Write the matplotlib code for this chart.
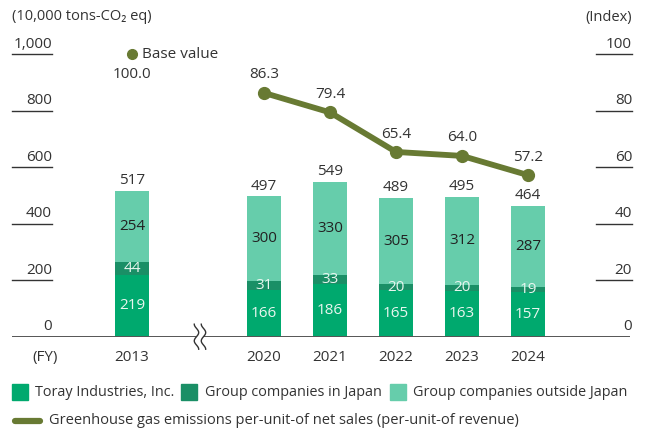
import matplotlib
matplotlib.use("Agg")
import matplotlib.pyplot as plt
from matplotlib.patches import Rectangle
from matplotlib.lines import Line2D
import numpy as np

plt.rcParams['font.family'] = ['Open Sans', 'DejaVu Sans']

# Data
years = ["2013", "2020", "2021", "2022", "2023", "2024"]
positions = [0, 2, 3, 4, 5, 6]
toray = [219, 166, 186, 165, 163, 157]
group_japan = [44, 31, 33, 20, 20, 19]
group_outside = [254, 300, 330, 305, 312, 287]
totals = [517, 497, 549, 489, 495, 464]

index_years_pos = [2, 3, 4, 5, 6]
index_values = [86.3, 79.4, 65.4, 64.0, 57.2]
base_value = 100.0

left_ticks = [0, 200, 400, 600, 800, 1000]
right_ticks = [0, 20, 40, 60, 80, 100]

c_toray = "#00a96e"
c_japan = "#1a8f66"
c_outside = "#66cdab"
c_line = "#687a33"
c_text = "#333333"
c_light = "#e8f6ef"

W, H = 645, 430
fig = plt.figure(figsize=(W / 100, H / 100), dpi=100)

left_px, right_px = 12, 630
bottom_px, top_px = 336.7, 54.2
ax = fig.add_axes([left_px / W, 1 - bottom_px / H,
                   (right_px - left_px) / W, (bottom_px - top_px) / H])
slot = 66.0
x0 = -(132 - left_px) / slot
x1 = x0 + (right_px - left_px) / slot
ax.set_xlim(x0, x1)
ax.set_ylim(0, 1000)
ax.axis("off")

ax2 = ax.twinx()
ax2.set_ylim(0, 100)
ax2.axis("off")

fs = 11
bw = 34 / slot
ypx = 1000 / (bottom_px - top_px)  # data units per pixel on the left axis

# Stacked bars
ax.bar(positions, toray, width=bw, color=c_toray, zorder=2)
ax.bar(positions, group_japan, width=bw, bottom=toray, color=c_japan, zorder=2)
bottoms2 = [a + b for a, b in zip(toray, group_japan)]
ax.bar(positions, group_outside, width=bw, bottom=bottoms2, color=c_outside, zorder=2)

for p, a, b, c, t in zip(positions, toray, group_japan, group_outside, totals):
    ax.text(p, a / 2, str(a), ha="center", va="center", fontsize=fs, color=c_light, zorder=3)
    ax.text(p, a + b / 2, str(b), ha="center", va="center", fontsize=fs, color=c_light, zorder=3)
    ax.text(p, a + b + c / 2, str(c), ha="center", va="center", fontsize=fs, color="#222222", zorder=3)
    ax.annotate(str(t), (p, a + b + c), xytext=(0, 2), textcoords="offset points",
                ha="center", va="bottom", fontsize=fs, color=c_text)

# Baseline with a break between 2013 and 2020
ax.axhline(0, color="#555555", lw=1.4, zorder=4)
brk_x = 1.03
ax.add_patch(Rectangle((brk_x - 4 / slot, -14 * ypx), 8 / slot, 28 * ypx, color="white",
                       zorder=5, clip_on=False, lw=0))
tt = np.linspace(-1, 1, 60)
for dx in (-3.5, 3.5):
    xs = brk_x + (dx + 2.2 * np.sin(tt * np.pi * 1.5)) / slot
    ys = tt * 12.5 * ypx
    ax.plot(xs, ys, color="#333333", lw=1.0, zorder=6, clip_on=False)

# Tick labels with short underlines
for v in left_ticks:
    if v > 0:
        ax.plot([x0, x0 + 40 / slot], [v, v], color="#333333", lw=1.0, clip_on=False)
    ax.text(x0 + 40 / slot, v + 10 * ypx, f"{v:,}", ha="right", va="center",
            fontsize=fs, color=c_text)
for v in right_ticks:
    if v > 0:
        ax2.plot([x1 - 34 / slot, x1 + 2 / slot], [v, v], color="#333333", lw=1.0, clip_on=False)
    ax2.text(x1 + 2 / slot, v + ypx, f"{v}", ha="right", va="center",
             fontsize=fs, color=c_text)

fig.text(12 / W, 1 - 17 / H, "(10,000 tons-CO₂ eq)", ha="left", va="center",
         fontsize=fs - 0.5, color=c_text)
fig.text(632 / W, 1 - 17 / H, "(Index)", ha="right", va="center",
         fontsize=fs - 0.5, color=c_text)

# Year labels
for p, y in zip(positions, years):
    ax.text(p, -21 * ypx, y, ha="center", va="center", fontsize=fs, color=c_text)
ax.text(x0 + 33 / slot, -21 * ypx, "(FY)", ha="center", va="center", fontsize=fs, color=c_text)

# Index line
ax2.plot(index_years_pos, index_values, color=c_line, lw=4.2, marker="o",
         markersize=8.5, zorder=7, solid_capstyle="round")
for p, v in zip(index_years_pos, index_values):
    ax2.annotate(f"{v:.1f}", (p, v), xytext=(0, 7.5), textcoords="offset points",
                 ha="center", va="bottom", fontsize=fs, color=c_text)

# Base value point
ax2.plot([0], [base_value], marker="o", color=c_line, markersize=7, linestyle="none",
         clip_on=False, zorder=7)
ax2.annotate("Base value", (0, base_value), xytext=(7, 0), textcoords="offset points",
             ha="left", va="center", fontsize=fs, color=c_text)
ax2.annotate(f"{base_value:.1f}", (0, base_value), xytext=(0, -14.5), textcoords="offset points",
             ha="center", va="center", fontsize=fs, color=c_text)

# Legend
lfs = 10.35

def legend_square(xpx, ypx_, color, label, text_x):
    fig.patches.append(Rectangle((xpx / W, 1 - (ypx_ + 8) / H), 16 / W, 16 / H,
                                 transform=fig.transFigure, color=color))
    fig.text(text_x / W, 1 - ypx_ / H, label, ha="left", va="center",
             fontsize=lfs, color=c_text)

legend_square(12, 392, c_toray, "Toray Industries, Inc.", 35)
legend_square(181, 392, c_japan, "Group companies in Japan", 205)
legend_square(390, 392, c_outside, "Group companies outside Japan", 413)
fig.lines.append(Line2D([15 / W, 40 / W], [1 - 421 / H, 1 - 421 / H],
                        transform=fig.transFigure, color=c_line, lw=4.5,
                        solid_capstyle="round"))
fig.text(49 / W, 1 - 421 / H, "Greenhouse gas emissions per-unit-of net sales (per-unit-of revenue)",
         ha="left", va="center", fontsize=10.5, color=c_text)

fig.savefig("out.png", dpi=100)
